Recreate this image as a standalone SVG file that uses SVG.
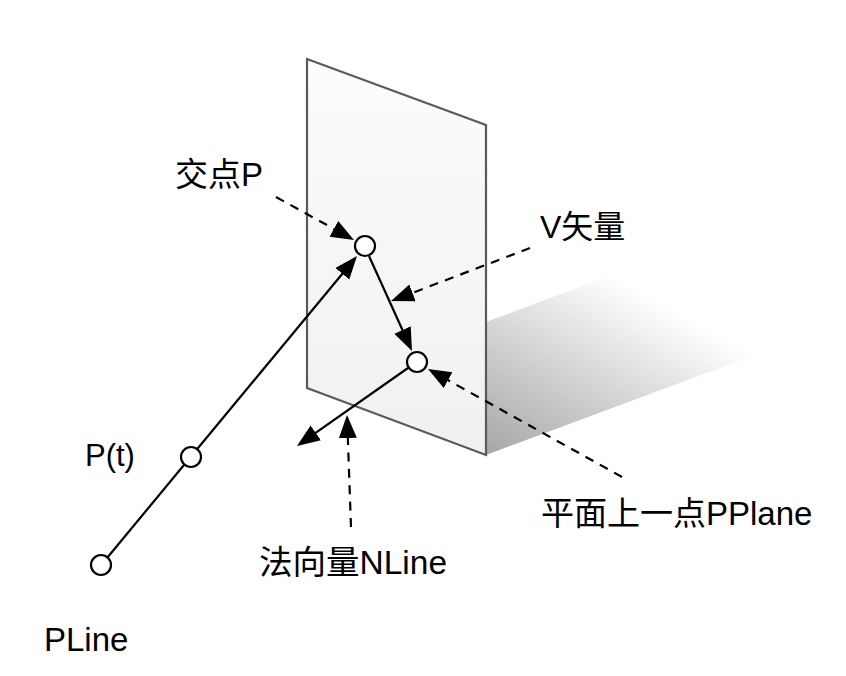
<svg xmlns="http://www.w3.org/2000/svg" width="846" height="676" viewBox="0 0 846 676">
<style>
text{font-family:"Liberation Sans","Noto Sans CJK SC",sans-serif;font-size:33px;fill:#000}
.c{fill:none;stroke:#000;stroke-width:2.2}
.d{stroke-dasharray:9 7.4}
.n{fill:#fff;stroke:#000;stroke-width:2.2}
</style>
<defs>
<marker id="a" markerUnits="userSpaceOnUse" markerWidth="24" markerHeight="20" refX="15" refY="10" orient="auto" viewBox="0 0 24 20"><path d="M0 1L23 10L0 19Z" fill="#000"/></marker>
<linearGradient id="s" gradientUnits="userSpaceOnUse" x1="486" y1="455" x2="593" y2="264"><stop offset="0" stop-color="#a6a6a6"/><stop offset="1" stop-color="#fff"/></linearGradient>
<linearGradient id="p" x1="0" y1="0" x2="0" y2="1"><stop offset="0" stop-color="#fcfcfc"/><stop offset="1" stop-color="#f0f0f0"/></linearGradient>
</defs>
<path id="shadow" d="M486 322L612 275L755 355L486 455Z" fill="url(#s)"/>
<path id="plane" d="M307 59L486 125V455L307 388Z" fill="url(#p)" stroke="#5a5a5a" stroke-width="2.2"/>
<g id="connectors">
<path class="c" d="M107 558L351.9 262.2" marker-end="url(#a)"/>
<path class="c" d="M369 256L408.7 343.7" marker-end="url(#a)"/>
<path class="c" d="M408 368L303.5 441.4" marker-end="url(#a)"/>
<path class="c d" d="M276 197L347 236.1" marker-end="url(#a)"/>
<path class="c d" d="M530 248L398.5 298.2" marker-end="url(#a)"/>
<path class="c d" d="M622 477L435 372.9" marker-end="url(#a)"/>
<path class="c d" d="M351 527L347.3 423" marker-end="url(#a)"/>
</g>
<g id="node-p"><circle class="n" cx="365" cy="246" r="10"/></g>
<g id="node-pplane"><circle class="n" cx="417" cy="362" r="10"/></g>
<g id="node-pt"><circle class="n" cx="191" cy="457" r="10"/></g>
<g id="node-pline"><circle class="n" cx="101" cy="565" r="10"/></g>
<text id="label-p" x="175" y="186">交点P</text>
<text id="label-v" x="540" y="238" style="font-size:32px">V矢量</text>
<text id="label-pt" x="85" y="466" style="font-size:31px">P(t)</text>
<text id="label-pline" x="44" y="651">PLine</text>
<text id="label-pplane" x="541" y="525">平面上一点PPlane</text>
<text id="label-nline" x="259" y="574" style="font-size:33.5px">法向量NLine</text>
</svg>
